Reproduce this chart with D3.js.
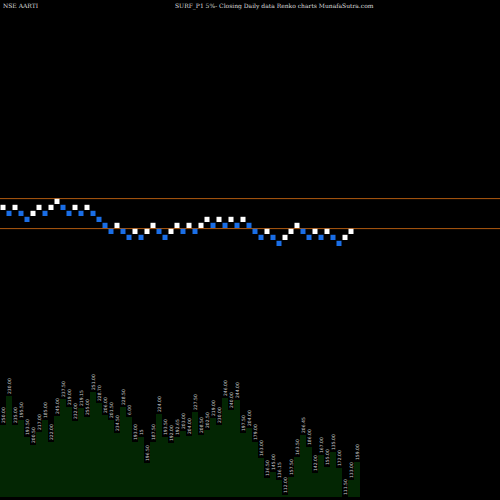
<!DOCTYPE html><html><head><script src="https://cdn.jsdelivr.net/npm/d3@7"></script>
<style>body{margin:0;background:#000}</style></head><body><svg id="c" width="500" height="500"></svg>
<script>
const levels=[1,2,1,2,3,2,1,2,1,0,1,2,1,2,1,2,3,4,5,4,5,6,5,6,5,4,5,6,5,4,5,4,5,4,3,4,3,4,3,4,3,4,5,6,5,6,7,6,5,4,5,6,5,6,5,6,7,6,5];
const dirs=["u","d","u","d","d","u","u","d","u","u","d","d","u","d","u","d","d","d","d","u","d","d","u","d","u","u","d","d","u","u","d","u","d","u","u","d","u","d","u","d","u","d","d","d","u","d","d","u","u","u","d","d","u","d","u","d","d","u","u"];
const volTop=[425,396,425,420,437,445,432,420,442,416,399,407,421,408,417,392,403,415,420,433,407,417,442,437,463,442,414,437,443,437,431,436,412,435,430,418,425,398,410,400,433,428,442,458,478,472,480,495,477,457,435,447,473,455,467,452,468,497,480,462];
const volLabels=["250.00","230.00","235.00","195.50","193.50","200.50","217.00","185.00","222.00","245.00","237.50","219.00","232.00","219.15","255.00","251.00","228.70","206.00","201.50","234.50","228.50","6.00","193.00","15","196.50","187.50","224.00","193.50","192.00","192.65","203.00","204.00","227.50","208.50","202.50","219.00","230.00","246.00","240.00","244.00","197.50","204.00","179.00","163.00","136.50","145.00","136.15","112.00","157.50","163.50","206.45","186.00","142.00","167.00","155.00","135.00","172.00","111.50","133.00","159.00"];
const refLines=[0,5];
const svg=d3.select("#c");
svg.append("rect").attr("width",500).attr("height",500).attr("fill","#000");
const x=d3.scaleLinear().domain([0,60]).range([0,360]);
const y=d3.scaleLinear().domain([0,8]).range([198.3,246.3]);
// volume (pixel-mapped scale)
const yv=d3.scaleLinear().domain([0,100]).range([0,100]);
const area=d3.area().curve(d3.curveStepAfter).x((d,i)=>x(i)).y0(497).y1(d=>yv(d));
const vt=volTop.concat([volTop[volTop.length-1]]);
svg.append("path").datum(vt).attr("d",area).attr("fill","#032603");
svg.selectAll("text.v").data(volLabels).join("text").attr("class","v")
 .attr("transform",(d,i)=>`translate(${x(i)+4.5},${yv(volTop[i])-2}) rotate(-90)`)
 .attr("font-size",4.5).attr("font-family","DejaVu Sans").attr("fill","#ccc").text(d=>d);
refLines.forEach(l=>svg.append("line").attr("x1",0).attr("x2",500).attr("y1",y(l)+0.3).attr("y2",y(l)+0.3).attr("stroke","#b05a10").attr("stroke-width",1));
svg.selectAll("rect.b").data(levels).join("rect").attr("class","b")
 .attr("x",(d,i)=>x(i)+0.5).attr("y",d=>y(d)+0.5).attr("width",5).attr("height",5.2)
 .attr("fill",(d,i)=>dirs[i]=="u"?"#ffffff":"#1a6ee6");
svg.append("text").attr("x",3).attr("y",8).attr("font-size",6).attr("font-family","DejaVu Serif").attr("fill","#ddd").text("NSE AARTI");
svg.append("text").attr("x",175).attr("y",8).attr("font-size",6).attr("font-family","DejaVu Serif").attr("fill","#ddd").text("SURF_P1 5%-  Closing Daily data  Renko  charts MunafaSutra.com");
</script></body></html>
